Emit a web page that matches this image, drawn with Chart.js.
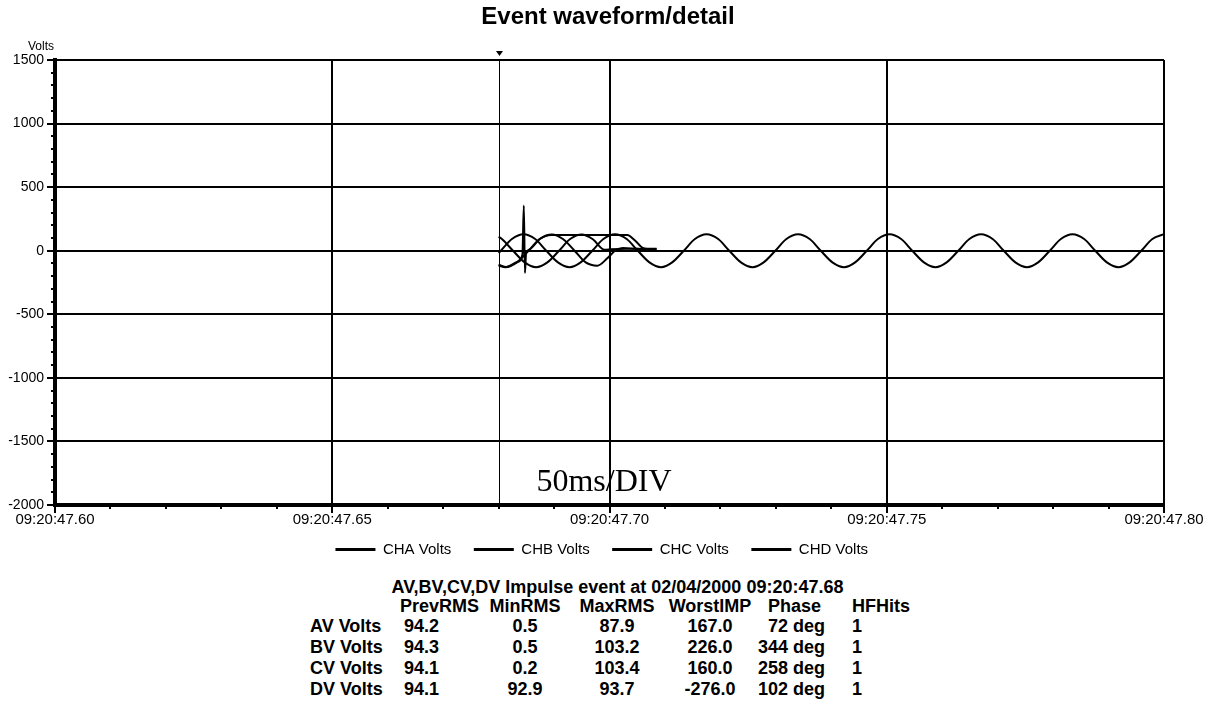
<!DOCTYPE html>
<html>
<head>
<meta charset="utf-8">
<script src="https://cdn.jsdelivr.net/npm/chart.js@4.4.1/dist/chart.umd.min.js"></script>
<style>
  body { margin: 0; background: #fff; }
  #wrap { position: relative; width: 1216px; height: 711px; font-family: "Liberation Sans", Arial, sans-serif; }
  #chartBox { position: absolute; left: 0; top: 0; width: 1216px; height: 567px; }
  #summary { position: absolute; left: 300px; top: 578px; border-collapse: collapse; table-layout: fixed;
             font-weight: bold; font-size: 18px; color: #000; }
  #summary td { padding: 0; white-space: nowrap; line-height: 21px; }
  #summary tr.head td { line-height: 19px; }
  #summary td.lbl { padding-left: 10px; }
  #summary td.prev { padding-left: 4px; }
  #summary td.mid { text-align: center; }
  #summary td.ph { text-align: right; padding-right: 10px; }
  #summary td.phHead { padding-left: 12px; }
  #summary td.hf { padding-left: 17px; }
</style>
</head>
<body>
<div id="wrap">
  <div id="chartBox"><canvas id="waveChart"></canvas></div>
  <table id="summary">
    <colgroup>
      <col style="width:100px"><col style="width:80px"><col style="width:90px"><col style="width:94px">
      <col style="width:92px"><col style="width:79px"><col style="width:100px">
    </colgroup>
    <tbody id="summaryBody"></tbody>
  </table>
</div>
<script>
// tempo em ms depois de 09:20:47.60
const triggerMs = 80;
const xMin = 0, xMax = 200;
const yMin = -2000, yMax = 1500;

// CHA: impulso em ~47.6846 e depois cai a zero
const timeA  = [80.0, 81.4, 83.4, 84.3, 84.55, 84.75, 84.95, 85.5, 87.5, 89.6, 91.6, 93.7, 95.7, 97.8, 99.6, 101.0, 102.4, 104.5, 108.0];
const voltsA = [-110, -128, -88, -30, 355, -175, -20, 8, 94, 128, 92, 0, -92, -118, -60, 0, 22, 15, 13];

// CHB
const timeB  = [80.0, 80.6, 82.6, 84.7, 86.75, 88.8, 90.9, 92.9, 95.0, 97.0, 99.1, 100.3, 103.0, 106.0, 108.5];
const voltsB = [110, 92, 0, -92, -130, -92, 0, 92, 128, 90, 8, 12, 16, 14, 12];

// CHC: fica preso no pico ate ~47.703
const timeC  = [80.0, 81.25, 83.3, 85.4, 87.4, 89.5, 91.0, 95.0, 99.0, 103.2, 104.6, 106.0, 107.0, 108.5];
const voltsC = [-116, -130, -92, 0, 92, 124, 124, 124, 124, 123, 80, 22, 16, 15];

// CHD: continua normal ate o fim da janela
const timeD = [80.0, 80.4, 82.4,
  84.5, 86.6, 88.6, 90.7, 92.8, 94.8, 96.9, 98.9,
  101.0, 103.1, 105.1, 107.2, 109.3, 111.3, 113.4, 115.4,
  117.5, 119.6, 121.6, 123.7, 125.8, 127.8, 129.9, 131.9,
  134.0, 136.1, 138.1, 140.2, 142.3, 144.3, 146.4, 148.4,
  150.5, 152.6, 154.6, 156.7, 158.8, 160.8, 162.9, 164.9,
  167.0, 169.1, 171.1, 173.2, 175.3, 177.3, 179.4, 181.4,
  183.5, 185.6, 187.6, 189.7, 191.8, 193.8, 195.9, 197.9,
  200.0];
const voltsD = [-18, 0, 92,
  130, 92, 0, -92, -130, -92, 0, 92,
  130, 92, 0, -92, -130, -92, 0, 92,
  130, 92, 0, -92, -130, -92, 0, 92,
  130, 92, 0, -92, -130, -92, 0, 92,
  130, 92, 0, -92, -130, -92, 0, 92,
  130, 92, 0, -92, -130, -92, 0, 92,
  130, 92, 0, -92, -130, -92, 0, 92,
  130];

const channelLabels = ['CHA Volts', 'CHB Volts', 'CHC Volts', 'CHD Volts'];

// tabela de resumo do evento
const eventTitle = 'AV,BV,CV,DV Impulse event at 02/04/2000 09:20:47.68';
const rowLabels = ['AV Volts', 'BV Volts', 'CV Volts', 'DV Volts'];
const prevRms  = [94.2, 94.3, 94.1, 94.1];
const minRms   = [0.5, 0.5, 0.2, 92.9];
const maxRms   = [87.9, 103.2, 103.4, 93.7];
const worstImp = [167.0, 226.0, 160.0, -276.0];
const phaseDeg = [72, 344, 258, 102];
const hfHits   = [1, 1, 1, 1];

const FONT = '"Liberation Sans", Arial, sans-serif';

const toPoints = (ts, vs) => ts.map((t, i) => ({ x: t, y: vs[i] }));
const fmtTime = (ms) => '09:20:' + (47.6 + ms / 1000).toFixed(2);

const traceStyle = {
    borderColor: '#000',
    backgroundColor: '#000',
    borderWidth: 2,
    pointRadius: 0,
    fill: false,
    cubicInterpolationMode: 'monotone'
};

// linha do trigger, marcador e textos soltos
const overlay = {
    id: 'overlay',
    beforeDatasetsDraw(chart) {
        const { ctx, chartArea, scales } = chart;
        const px = Math.round(scales.x.getPixelForValue(triggerMs)) + 0.5;
        ctx.save();
        ctx.strokeStyle = '#000';
        ctx.fillStyle = '#000';
        ctx.lineWidth = 1;
        ctx.beginPath();
        ctx.moveTo(px, chartArea.top);
        ctx.lineTo(px, chartArea.bottom);
        ctx.stroke();
        ctx.beginPath();
        ctx.moveTo(px - 3.5, chartArea.top - 9);
        ctx.lineTo(px + 3.5, chartArea.top - 9);
        ctx.lineTo(px, chartArea.top - 4);
        ctx.closePath();
        ctx.fill();
        ctx.restore();
    },
    afterDraw(chart) {
        const { ctx, chartArea } = chart;
        ctx.save();
        ctx.fillStyle = '#000';
        ctx.textBaseline = 'middle';
        ctx.textAlign = 'center';
        ctx.font = '12px ' + FONT;
        ctx.fillText('Volts', 41, chartArea.top - 13);
        ctx.font = '32px "Liberation Serif", "Times New Roman", serif';
        ctx.fillText('50ms/DIV', 604, chartArea.bottom - 22);
        ctx.restore();
    }
};

const ctxWave = document.getElementById('waveChart').getContext('2d');
const waveChart = new Chart(ctxWave, {
    type: 'line',
    data: {
        datasets: [
            { label: channelLabels[0], data: toPoints(timeA, voltsA), ...traceStyle },
            { label: channelLabels[1], data: toPoints(timeB, voltsB), ...traceStyle },
            { label: channelLabels[2], data: toPoints(timeC, voltsC), ...traceStyle },
            { label: channelLabels[3], data: toPoints(timeD, voltsD), ...traceStyle }
        ]
    },
    options: {
        animation: false,
        responsive: true,
        maintainAspectRatio: false,
        layout: { padding: 0 },
        scales: {
            x: {
                type: 'linear', min: xMin, max: xMax, weight: 1,
                ticks: { stepSize: 50, color: '#000', font: { family: FONT, size: 15 }, padding: -2, maxRotation: 0, callback: (v) => fmtTime(v) },
                grid: { color: '#000', lineWidth: 2, tickLength: 8 },
                border: { color: '#000', width: 4 },
                afterFit: (s) => { s.paddingRight = 52; s.height = 27; }
            },
            xMinor: {
                type: 'linear', position: 'bottom', min: xMin, max: xMax, weight: 0,
                ticks: { stepSize: 10, display: false },
                grid: { drawOnChartArea: false, color: '#000', lineWidth: 2, tickLength: 4 },
                border: { display: false },
                afterFit: (s) => { s.height = 0; }
            },
            y: {
                type: 'linear', min: yMin, max: yMax, weight: 1,
                ticks: { stepSize: 500, color: '#000', font: { family: FONT, size: 14 }, padding: 3, callback: (v) => String(v) },
                grid: { color: '#000', lineWidth: 2, tickLength: 8 },
                border: { color: '#000', width: 4 },
                afterFit: (s) => { s.width = 55; }
            },
            yMinor: {
                type: 'linear', position: 'left', min: yMin, max: yMax, weight: 0,
                ticks: { stepSize: 100, display: false },
                grid: { drawOnChartArea: false, color: '#000', lineWidth: 2, tickLength: 4 },
                border: { display: false },
                afterFit: (s) => { s.width = 0; }
            }
        },
        plugins: {
            title: {
                display: true,
                text: 'Event waveform/detail',
                color: '#000',
                font: { family: FONT, size: 24, weight: 'bold', lineHeight: 1.2 },
                padding: { top: 3, bottom: 28.2 }
            },
            legend: {
                position: 'bottom',
                labels: {
                    color: '#000',
                    font: { family: FONT, size: 15 },
                    usePointStyle: true,
                    pointStyle: 'line',
                    pointStyleWidth: 40,
                    padding: 10,
                    // espacos no fim abrem o espaco entre os itens sem aumentar a altura da legenda
                    generateLabels: (chart) => Chart.defaults.plugins.legend.labels.generateLabels(chart)
                        .map((item) => ({ ...item, text: item.text + '   ', lineWidth: 3 }))
                }
            },
            tooltip: { enabled: false }
        }
    },
    plugins: [overlay]
});

// monta a tabela
const body = document.getElementById('summaryBody');
const addRow = (cells, cls) => {
    const tr = document.createElement('tr');
    if (cls) tr.className = cls;
    cells.forEach(([text, tdCls, span]) => {
        const td = document.createElement('td');
        td.textContent = text;
        if (tdCls) td.className = tdCls;
        if (span) td.colSpan = span;
        tr.appendChild(td);
    });
    body.appendChild(tr);
};
addRow([[eventTitle, 'mid', 7]], 'head');
addRow([['', ''], ['PrevRMS', ''], ['MinRMS', 'mid'], ['MaxRMS', 'mid'], ['WorstIMP', 'mid'], ['Phase', 'phHead'], ['HFHits', 'hf']], 'head');
rowLabels.forEach((lbl, i) => {
    addRow([
        [lbl, 'lbl'],
        [prevRms[i].toFixed(1), 'prev'],
        [minRms[i].toFixed(1), 'mid'],
        [maxRms[i].toFixed(1), 'mid'],
        [worstImp[i].toFixed(1), 'mid'],
        [phaseDeg[i] + ' deg', 'ph'],
        [String(hfHits[i]), 'hf']
    ]);
});
</script>
</body>
</html>
